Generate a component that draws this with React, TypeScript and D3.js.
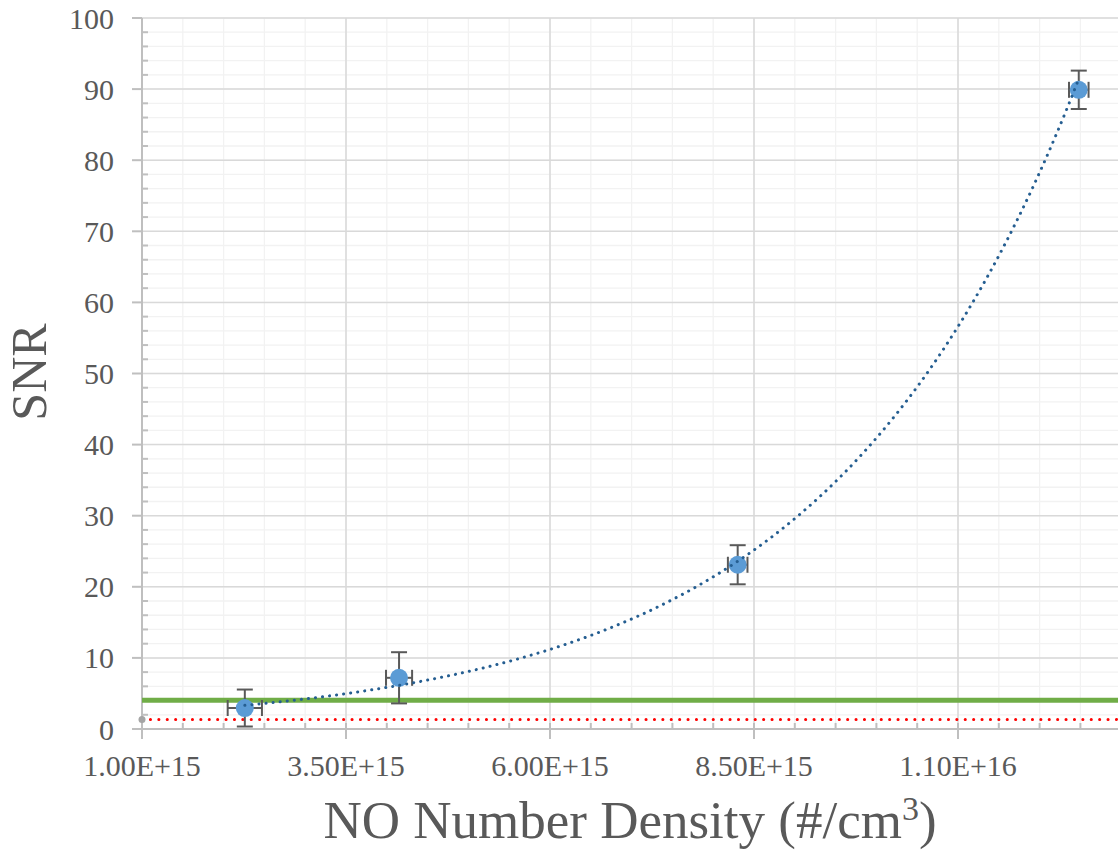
import * as d3 from "d3";
import { useEffect, useRef } from "react";

// measured points (x in #/cm3, y SNR)
const density = [2.26e15, 4.15e15, 8.3e15, 1.248e16];
const snr = [2.95, 7.2, 23.1, 89.9];
const densityErr = [0.21e15, 0.16e15, 0.12e15, 0.12e15];
const snrErr = [2.6, 3.6, 2.75, 2.7];

// reference levels
const thresholdGreen = 4.05;
const noiseRed = 1.35;

const xTicks = [1e15, 3.5e15, 6e15, 8.5e15, 1.1e16];
const xTickLabels = ["1.00E+15", "3.50E+15", "6.00E+15", "8.50E+15", "1.10E+16"];
const yTicks = [0, 10, 20, 30, 40, 50, 60, 70, 80, 90, 100];

const W = 1118;
const H = 853;
const left = 142;
const top = 18;
const bottom = 729;

export default function App() {
    const ref = useRef<SVGSVGElement | null>(null);

    useEffect(() => {
        if (!ref.current) return;
        const svg = d3.select(ref.current);
        svg.selectAll("*").remove();

        const x = d3.scaleLinear().domain([1e15, 1.3e16]).range([left, left + (12 / 2.5) * 204]);
        const y = d3.scaleLinear().domain([0, 100]).range([bottom, top]);
        const xMax = W;

        const g = svg.append("g").attr("font-family", "'Liberation Serif', 'Times New Roman', serif");

        // minor grid
        const xMinor = d3.range(1e15, 1.3e16 + 1, 5e14);
        const yMinor = d3.range(0, 101, 2);
        g.selectAll("line.xminor").data(xMinor).join("line")
            .attr("x1", d => x(d)).attr("x2", d => x(d))
            .attr("y1", top).attr("y2", bottom)
            .attr("stroke", "#F2F2F2").attr("stroke-width", 1.3);
        g.selectAll("line.yminor").data(yMinor).join("line")
            .attr("x1", left).attr("x2", xMax)
            .attr("y1", d => y(d)).attr("y2", d => y(d))
            .attr("stroke", "#F2F2F2").attr("stroke-width", 1.3);

        // major grid
        g.selectAll("line.xmajor").data(d3.range(1e15, 1.3e16 + 1, 2.5e15)).join("line")
            .attr("x1", d => x(d)).attr("x2", d => x(d))
            .attr("y1", top).attr("y2", bottom)
            .attr("stroke", "#D9D9D9").attr("stroke-width", 1.5);
        g.selectAll("line.ymajor").data(yTicks).join("line")
            .attr("x1", left).attr("x2", xMax)
            .attr("y1", d => y(d)).attr("y2", d => y(d))
            .attr("stroke", "#D9D9D9").attr("stroke-width", 1.5);

        // axes
        const axisColor = "#BFBFBF";
        g.append("line").attr("x1", left).attr("x2", left).attr("y1", top).attr("y2", bottom)
            .attr("stroke", axisColor).attr("stroke-width", 2);
        g.append("line").attr("x1", left).attr("x2", xMax).attr("y1", bottom).attr("y2", bottom)
            .attr("stroke", axisColor).attr("stroke-width", 2);
        g.selectAll("line.ytick").data(yTicks).join("line")
            .attr("x1", left - 10).attr("x2", left)
            .attr("y1", d => y(d)).attr("y2", d => y(d))
            .attr("stroke", axisColor).attr("stroke-width", 2);
        g.selectAll("line.yminortick").data(yMinor.filter(d => d % 10 !== 0)).join("line")
            .attr("x1", left).attr("x2", left + 6)
            .attr("y1", d => y(d)).attr("y2", d => y(d))
            .attr("stroke", axisColor).attr("stroke-width", 2);
        g.selectAll("line.xtick").data(xTicks).join("line")
            .attr("x1", d => x(d)).attr("x2", d => x(d))
            .attr("y1", bottom).attr("y2", bottom + 10)
            .attr("stroke", axisColor).attr("stroke-width", 2);
        g.selectAll("line.xminortick").data(xMinor).join("line")
            .attr("x1", d => x(d)).attr("x2", d => x(d))
            .attr("y1", bottom - 6).attr("y2", bottom)
            .attr("stroke", axisColor).attr("stroke-width", 2);

        // tick labels
        g.selectAll("text.ylab").data(yTicks).join("text")
            .attr("x", 114).attr("y", d => y(d))
            .attr("dy", "0.35em")
            .attr("text-anchor", "end")
            .attr("font-size", 30)
            .attr("fill", "#595959")
            .text(d => d);
        g.selectAll("text.xlab").data(xTicks).join("text")
            .attr("x", d => x(d)).attr("y", 776)
            .attr("text-anchor", "middle")
            .attr("font-size", 30)
            .attr("fill", "#595959")
            .text((_, i) => xTickLabels[i]);

        // axis titles
        g.append("text")
            .attr("transform", `translate(46, 372) rotate(-90)`)
            .attr("text-anchor", "middle")
            .attr("font-size", 50)
            .attr("fill", "#595959")
            .text("SNR");
        const xt = g.append("text")
            .attr("x", 630).attr("y", 838)
            .attr("text-anchor", "middle")
            .attr("font-size", 53)
            .attr("fill", "#595959");
        xt.append("tspan").text("NO Number Density (#/cm");
        xt.append("tspan").attr("font-size", 34).attr("dy", -18).text("3");
        xt.append("tspan").attr("dy", 18).text(")");

        // reference lines
        g.append("line")
            .attr("x1", left).attr("x2", xMax)
            .attr("y1", y(thresholdGreen)).attr("y2", y(thresholdGreen))
            .attr("stroke", "#70AD47").attr("stroke-width", 5);
        g.append("line")
            .attr("x1", left).attr("x2", xMax)
            .attr("y1", y(noiseRed)).attr("y2", y(noiseRed))
            .attr("stroke", "#FF0000").attr("stroke-width", 3)
            .attr("stroke-linecap", "round")
            .attr("stroke-dasharray", "0.1 8.3");
        g.append("circle")
            .attr("cx", x(1e15)).attr("cy", y(noiseRed)).attr("r", 3.5)
            .attr("fill", "#A5A5A5");

        // error bars
        const pts = density.map((d, i) => ({ x: d, y: snr[i], ex: densityErr[i], ey: snrErr[i] }));
        const eb = g.append("g").attr("stroke", "#595959").attr("stroke-width", 2);
        pts.forEach(p => {
            const cx = x(p.x), cy = y(p.y);
            const y0 = y(p.y - p.ey), y1 = y(p.y + p.ey);
            const x0 = x(p.x - p.ex), x1 = x(p.x + p.ex);
            eb.append("line").attr("x1", cx).attr("x2", cx).attr("y1", y0).attr("y2", y1);
            eb.append("line").attr("x1", cx - 8).attr("x2", cx + 8).attr("y1", y0).attr("y2", y0);
            eb.append("line").attr("x1", cx - 8).attr("x2", cx + 8).attr("y1", y1).attr("y2", y1);
            eb.append("line").attr("x1", x0).attr("x2", x1).attr("y1", cy).attr("y2", cy);
            eb.append("line").attr("x1", x0).attr("x2", x0).attr("y1", cy - 8).attr("y2", cy + 8);
            eb.append("line").attr("x1", x1).attr("x2", x1).attr("y1", cy - 8).attr("y2", cy + 8);
        });

        // markers
        g.selectAll("circle.pt").data(pts).join("circle")
            .attr("cx", d => x(d.x)).attr("cy", d => y(d.y)).attr("r", 9)
            .attr("fill", "#5B9BD5");

        // exponential trendline (least squares on ln y)
        const lx = density;
        const ly = snr.map(v => Math.log(v));
        const mx = d3.mean(lx)!;
        const my = d3.mean(ly)!;
        const b = d3.sum(lx.map((v, i) => (v - mx) * (ly[i] - my))) / d3.sum(lx.map(v => (v - mx) ** 2));
        const a = Math.exp(my - b * mx);
        const xs = d3.range(0, 201).map(i => density[0] + (density[density.length - 1] - density[0]) * i / 200);
        const line = d3.line<number>().x(d => x(d)).y(d => y(a * Math.exp(b * d)));
        g.append("path")
            .attr("d", line(xs) ?? "")
            .attr("fill", "none")
            .attr("stroke", "#255E91")
            .attr("stroke-width", 3)
            .attr("stroke-linecap", "round")
            .attr("stroke-dasharray", "0.1 7");
    }, []);

    return (
        <svg ref={ref} width={W} height={H}
            style={{ position: "absolute", left: 0, top: 0, background: "#fff" }} />
    );
}
